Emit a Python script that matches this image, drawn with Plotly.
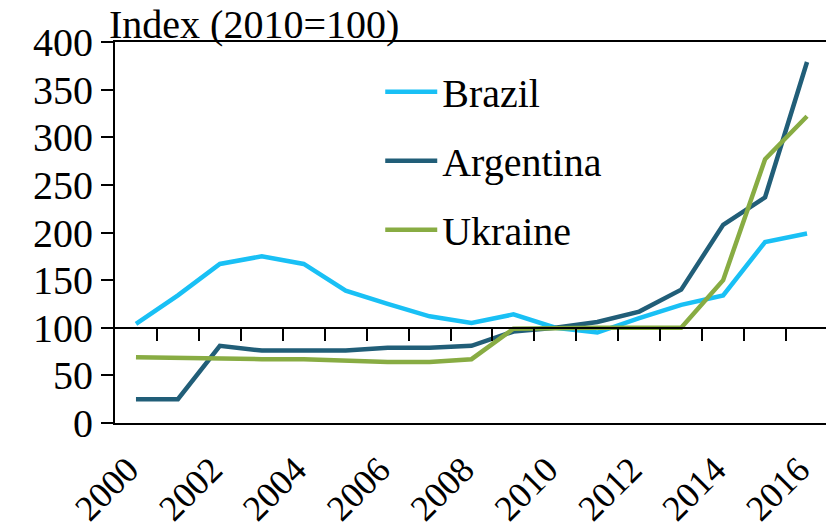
import plotly.graph_objects as go

years = list(range(2000, 2017))
brazil = [104, 134, 167, 175, 167, 139, 125, 112, 105, 114, 100, 95, 110, 124, 134, 190, 199]
argentina = [25, 25, 81, 76, 76, 76, 79, 79, 81, 96, 100, 106, 117, 140, 208, 237, 379]
ukraine = [69, 68, 67, 67, 67, 65, 64, 64, 67, 99, 100, 100, 100, 100, 150, 277, 322]
tick_years = [2000, 2002, 2004, 2006, 2008, 2010, 2012, 2014, 2016]
boundaries = [y + 0.5 for y in range(2000, 2016)]

FONT = "Liberation Serif"
FS = 40

fig = go.Figure()
series = [("Brazil", brazil, "#19C0F5"), ("Argentina", argentina, "#215E78"), ("Ukraine", ukraine, "#88AC43")]
for name, vals, col in series:
    fig.add_trace(go.Scatter(x=years, y=vals, mode="lines", name=name, legendgroup=name,
                             line=dict(color=col, width=4.5)))

# invisible trace on crossing axis
fig.add_trace(go.Scatter(x=[years[0]], y=[100], xaxis="x2", mode="markers",
                         marker=dict(opacity=0), showlegend=False, hoverinfo="skip"))

fig.update_layout(
    width=826, height=521,
    margin=dict(l=107, r=6, t=34, b=106, autoexpand=False),
    paper_bgcolor="white", plot_bgcolor="white",
    font=dict(family=FONT, size=FS, color="black"),
    xaxis=dict(range=[1999.5, 2016.5], tickvals=tick_years, ticktext=[str(t) for t in tick_years],
               tickangle=-45, ticks="", ticklabelstandoff=9, ticklabelshift=-8,
               showline=True, linecolor="black", linewidth=2, mirror=True, automargin=False,
               showgrid=False, zeroline=False, tickfont=dict(family=FONT, size=36)),
    xaxis2=dict(range=[1999.5, 2016.5], overlaying="x", anchor="free", position=0.25,
                tickvals=boundaries, showticklabels=False, ticks="outside", ticklen=12,
                tickwidth=2, tickcolor="black", automargin=False,
                showline=True, linecolor="black", linewidth=2, showgrid=False, zeroline=False),
    yaxis=dict(range=[0, 400], dtick=50, ticks="outside", ticklen=12, tickwidth=2, tickcolor="black",
               showline=True, linecolor="black", linewidth=2, mirror=True, automargin=False,
               showgrid=False, zeroline=False, tickfont=dict(family=FONT, size=FS)),
    legend=dict(x=0.372, y=0.955, xanchor="left", yanchor="top", bgcolor="rgba(0,0,0,0)",
                font=dict(family=FONT, size=FS), tracegroupgap=14, itemwidth=52),
    showlegend=True,
    annotations=[dict(text="Index (2010=100)", xref="paper", yref="paper", x=-0.01, y=1,
                      xanchor="left", yanchor="bottom", showarrow=False, yshift=-6,
                      borderpad=0, font=dict(family=FONT, size=FS))],
)

fig.write_html("out.html")
